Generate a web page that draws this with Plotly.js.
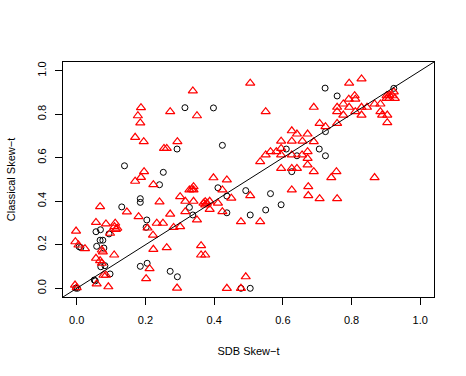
<!DOCTYPE html>
<html>
<head>
<meta charset="utf-8">
<script src="https://cdn.plot.ly/plotly-3.0.1.min.js"></script>
<style>html,body{margin:0;padding:0;background:#fff}#chart{width:466px;height:376px}</style>
</head>
<body>
<div id="chart"></div>
<script>
// Black open circles
const circleX = [0.315,0.398,0.292,0.139,0.252,0.424,0.610,0.641,0.626,0.723,0.758,0.923,0.724,0.706,0.724,
  0.411,0.437,0.492,0.564,0.595,0.550,0.505,0.437,0.338,0.328,0.478,0.505,0.241,0.185,0.185,0.131,0.204,
  0.056,0.069,0.202,0.094,0.068,0.076,0.058,0.079,0.012,0.007,0.082,0.097,0.070,0.205,0.185,0.272,0.293,
  0.051,0.054,-0.003,0.002];
const circleY = [0.830,0.829,0.640,0.563,0.533,0.657,0.640,0.609,0.536,0.920,0.884,0.919,0.720,0.640,0.609,
  0.462,0.424,0.449,0.435,0.384,0.360,0.337,0.347,0.337,0.372,0.000,0.000,0.476,0.412,0.395,0.374,0.314,
  0.260,0.269,0.280,0.250,0.221,0.221,0.193,0.185,0.187,0.191,0.104,0.066,0.099,0.115,0.101,0.078,0.053,
  0.038,0.034,0.001,0.000];
// Red open triangles
const triX = [0.187,0.178,0.185,0.272,0.170,0.195,0.254,0.262,0.293,0.196,0.187,0.170,0.338,0.505,0.350,0.550,
  0.626,0.641,0.672,0.595,0.626,0.657,0.564,0.581,0.595,0.550,0.595,0.626,0.656,0.672,0.672,0.534,0.595,0.626,
  0.641,0.672,0.398,0.437,0.793,0.829,0.690,0.758,0.758,0.776,0.792,0.809,0.811,0.793,0.811,0.829,0.845,0.867,
  0.884,0.884,0.889,0.904,0.904,0.902,0.910,0.919,0.926,0.923,0.910,0.902,0.776,0.829,0.707,0.724,0.758,0.690,
  0.690,0.756,0.741,0.867,0.674,0.674,0.707,0.758,0.340,0.335,0.328,0.340,0.301,0.316,0.340,0.374,0.369,0.379,
  0.387,0.374,0.411,0.424,0.450,0.505,0.387,0.424,0.316,0.350,0.301,0.478,0.534,0.626,0.362,0.362,0.374,0.492,
  0.437,0.478,0.223,0.241,0.068,0.146,0.180,0.272,0.056,0.085,0.112,0.110,0.114,0.118,0.097,-0.002,0.233,0.251,
  0.222,0.282,-0.004,0.005,0.024,0.073,0.076,0.056,0.068,0.073,0.109,0.223,0.262,0.078,0.085,0.212,0.202,0.058,
  0.092,0.292,-0.005,0.000,0.206];
const triY = [0.830,0.793,0.760,0.812,0.694,0.674,0.643,0.643,0.674,0.536,0.510,0.492,0.907,0.943,0.793,0.812,
  0.724,0.709,0.709,0.676,0.676,0.676,0.628,0.628,0.643,0.613,0.613,0.613,0.613,0.628,0.597,0.582,0.551,0.551,
  0.551,0.567,0.508,0.498,0.943,0.962,0.832,0.832,0.812,0.847,0.869,0.885,0.869,0.832,0.812,0.832,0.832,0.847,
  0.847,0.812,0.796,0.796,0.761,0.885,0.873,0.885,0.873,0.903,0.888,0.873,0.796,0.796,0.758,0.743,0.758,0.674,
  0.536,0.536,0.509,0.509,0.467,0.426,0.412,0.412,0.467,0.455,0.452,0.452,0.421,0.400,0.400,0.398,0.391,0.391,
  0.400,0.383,0.391,0.452,0.414,0.426,0.363,0.352,0.352,0.314,0.283,0.306,0.306,0.452,0.196,0.153,0.153,0.053,
  0.000,0.000,0.476,0.397,0.375,0.351,0.329,0.341,0.303,0.296,0.299,0.283,0.271,0.276,0.253,0.263,0.299,0.299,
  0.244,0.280,0.214,0.199,0.182,0.176,0.167,0.138,0.127,0.115,0.153,0.179,0.187,0.060,0.060,0.090,0.044,0.020,
  0.007,0.001,0.015,0.003,0.277];
const axisRange = [-0.04, 1.04];
const tickVals = [0, 0.2, 0.4, 0.6, 0.8, 1.0];
const tickText = ["0.0", "0.2", "0.4", "0.6", "0.8", "1.0"];

const font = {family: "Liberation Sans, Arial, Helvetica, sans-serif", size: 11, color: "#000"};
const traces = [
  {x: circleX, y: circleY, type: "scatter", mode: "markers",
   marker: {symbol: "circle-open", size: 6, color: "#000", line: {width: 1, color: "#000"}}, cliponaxis: false},
  {x: triX, y: triY, type: "scatter", mode: "markers",
   marker: {symbol: "triangle-up-open", size: 8, color: "#ff0000", line: {width: 1.2, color: "#ff0000"}}, cliponaxis: false},
  {x: axisRange, y: axisRange, type: "scatter", mode: "lines",
   line: {color: "#000", width: 1}}
];
const axisCommon = {
  range: axisRange, tickmode: "array", tickvals: tickVals, ticktext: tickText,
  showgrid: false, zeroline: false, showline: true, mirror: true, linecolor: "#000", linewidth: 1,
  ticks: "outside", ticklen: 7, tickwidth: 1, tickcolor: "#000", tickfont: font, fixedrange: true
};
const layout = {
  width: 466, height: 376,
  margin: {l: 63, r: 32, t: 62, b: 79},
  paper_bgcolor: "#fff", plot_bgcolor: "#fff",
  showlegend: false, font: font,
  xaxis: Object.assign({}, axisCommon, {title: {text: "SDB Skew\u2212t", font: font, standoff: 22}, ticklabelstandoff: 6}),
  yaxis: Object.assign({}, axisCommon, {tickangle: -90, title: {text: "Classical Skew\u2212t", font: font, standoff: 17}, ticklabelstandoff: 5})
};
Plotly.newPlot("chart", traces, layout, {staticPlot: true, displayModeBar: false});
</script>
</body>
</html>
